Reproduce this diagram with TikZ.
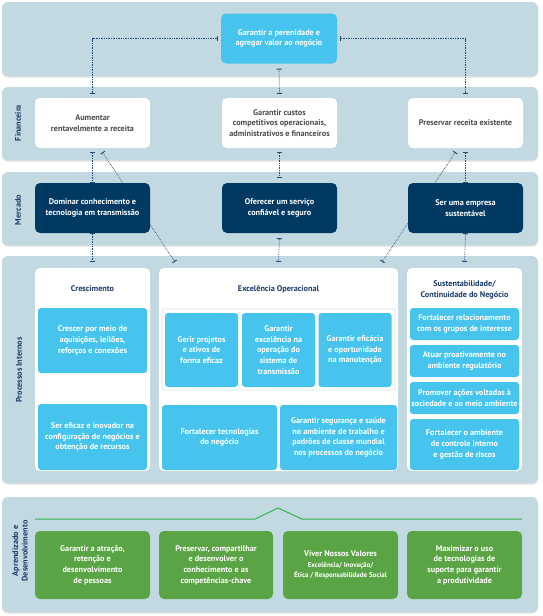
\documentclass[tikz,border=0pt]{standalone}
\usepackage{fontspec}
\setmainfont{PT Sans}
\usetikzlibrary{calc}
\usetikzlibrary{arrows.meta}
\usetikzlibrary{shadows}

\definecolor{stripfill}{RGB}{195,217,226}
\definecolor{sky}{RGB}{70,196,238}
\definecolor{navy}{RGB}{0,58,99}
\definecolor{ink}{RGB}{27,60,107}
\definecolor{leaf}{RGB}{91,164,69}
\definecolor{rulegreen}{RGB}{46,179,80}
\definecolor{dots}{RGB}{31,74,122}
\definecolor{framecol}{RGB}{214,229,236}

\pgfdeclarelayer{bg}
\pgfdeclarelayer{mid}
\pgfsetlayers{bg,mid,main}

\begin{document}
\begin{tikzpicture}[x=1pt,y=-1pt,
    font=\fontsize{8.2}{10.6}\selectfont\bfseries,
    strip/.style={fill=stripfill,rounded corners=6pt,drop shadow={shadow xshift=0pt,shadow yshift=-1.5pt,opacity=0.25}},
    box/.style={rounded corners=5pt,align=center,minimum width=115pt,minimum height=50pt,inner sep=1pt},
    goal/.style={box,fill=sky,text=white},
    fin/.style={box,fill=white,text=black!70},
    mkt/.style={box,fill=navy,text=white},
    panel/.style={fill=white,rounded corners=5pt,minimum width=115pt,minimum height=203pt},
    task/.style={fill=sky,text=white,rounded corners=3pt,align=center,inner sep=0pt},
    devbox/.style={fill=leaf,text=white,rounded corners=5pt,align=center,minimum width=115pt,minimum height=68pt,inner sep=0pt},
    head/.style={text=ink,align=center},
    side/.style={text=ink,rotate=90,align=center},
    tee/.style={dots,densely dotted,line width=0.7pt,{Bar[width=5pt,line width=1pt]}-{Bar[width=5pt,line width=1pt]}}]
  \useasboundingbox (0,0) rectangle (543,616);
  \begin{pgfonlayer}{bg}
    \fill[strip] (2,2) rectangle (538,76);
    \fill[strip] (2,87) rectangle (538,160);
    \fill[strip] (2,172) rectangle (538,245);
    \fill[strip] (2,256) rectangle (538,483);
    \fill[strip] (2,497) rectangle (538,612);
  \end{pgfonlayer}

  \node[side] (lfin) at (18,123) {Financeira};
  \node[side] (lmer) at (18,210) {Mercado};
  \node[side] (lpro) at (19,370) {Processos Internos};
  \node[side,font=\fontsize{8.2}{9.5}\selectfont\bfseries] (lapr) at (20,551) {Aprendizado e\\Desenvolvimento};

  \node[goal,minimum width=116pt] (top) at (279,38.5) {Garantir a perenidade e\\agregar valor ao negócio};

  \node[fin] (fin1) at (92.5,123) {Aumentar\\rentavelmente a receita};
  \node[fin] (fin2) at (279.5,123) {Garantir custos\\competitivos operacionais,\\administrativos e financeiros};
  \node[fin] (fin3) at (465.5,123) {Preservar receita existente};

  \node[mkt] (mer1) at (92.5,208) {Dominar conhecimento e\\tecnologia em transmissão};
  \node[mkt] (mer2) at (279.5,208) {Oferecer um serviço\\confiável e seguro};
  \node[mkt] (mer3) at (465.5,208) {Ser uma empresa\\sustentável};

  \node[panel] (cre) at (92.5,369.5) {};
  \node[panel,minimum width=239pt] (exc) at (278.5,369.5) {};
  \node[panel] (sus) at (464.5,369.5) {};
  \node[head] (creh) at (92.5,289) {Crescimento};
  \node[head] (exch) at (278.5,289) {Excelência Operacional};
  \node[head] (sush) at (464.5,290) {Sustentabilidade/\\Continuidade do Negócio};

  \node[task,minimum width=109pt,minimum height=65pt] (cre1) at (92.5,340.5) {Crescer por meio de\\aquisições, leilões,\\reforços e conexões};
  \node[task,minimum width=109pt,minimum height=66pt] (cre2) at (92.5,437) {Ser eficaz e inovador na\\configuração de negócios e\\obtenção de recursos};

  \node[draw=framecol,line width=0.8pt,rounded corners=2pt,minimum width=233pt,minimum height=81pt] (eo) at (278.5,349.5) {};
  \node[task,minimum width=73pt,minimum height=74pt] (exc1) at (201.5,350) {Gerir projetos\\e ativos de\\forma eficaz};
  \node[task,minimum width=73pt,minimum height=74pt] (exc2) at (278.5,350) {Garantir\\excelência na\\operação do\\sistema de\\transmissão};
  \node[task,minimum width=73pt,minimum height=74pt] (exc3) at (355,350) {Garantir eficácia\\e oportunidade\\na manutenção};
  \node[task,minimum width=115pt,minimum height=65pt] (exc4) at (219.5,437.5) {Fortalecer tecnologias\\do negócio};
  \node[task,minimum width=117pt,minimum height=65pt] (exc5) at (338.5,437.5) {Garantir segurança e saúde\\no ambiente de trabalho e\\padrões de classe mundial\\nos processos do negócio};

  \node[task,minimum width=109pt,minimum height=32pt] (sus1) at (464.5,324) {Fortalecer relacionamento\\com os grupos de interesse};
  \node[task,minimum width=109pt,minimum height=32pt] (sus2) at (464.5,361) {Atuar proativamente no\\ambiente regulatório};
  \node[task,minimum width=109pt,minimum height=32pt] (sus3) at (464.5,398) {Promover ações voltadas à\\sociedade e ao meio ambiente};
  \node[task,minimum width=109pt,minimum height=51pt] (sus4) at (464.5,444.5) {Fortalecer o ambiente\\de controle interno\\e gestão de riscos};

  \draw[rulegreen,line width=1pt] (35,519) -- (255,519) -- (278,508) -- (302,519) -- (522,519);
  \node[devbox] (dev1) at (92.5,565) {Garantir a atração,\\retenção e\\desenvolvimento\\de pessoas};
  \node[devbox,minimum width=114pt] (dev2) at (216,565) {Preservar, compartilhar\\e desenvolver o\\conhecimento e as\\competências-chave};
  \node[devbox] (dev3) at (340.5,565) {Viver Nossos Valores\\\fontsize{7}{9.5}\selectfont Excelência/ Inovação/\\\fontsize{7}{9.5}\selectfont Ética / Responsabilidade Social};
  \node[devbox] (dev4) at (464.5,565) {Maximizar o uso\\de tecnologias de\\suporte para garantir\\a produtividade};

  \begin{pgfonlayer}{mid}
    \draw[tee] ([xshift=-3]top.west) -| ([yshift=4]fin1.north);
    \draw[tee] ([xshift=3]top.east) -| ([yshift=4]fin3.north);
    \draw[tee] ([yshift=-5]top.south) -- ([yshift=4]fin2.north);
    \draw[tee] ([yshift=-4]fin1.south) -- (mer1.north);
    \draw[tee] ([yshift=-4]fin2.south) -- ([yshift=5]mer2.north);
    \draw[tee] ([yshift=-4]fin3.south) -- (mer3.north);
    \draw[tee] ([xshift=10,yshift=-4]fin1.south) -- ([xshift=16,yshift=6]exc.north west);
    \draw[tee] ([xshift=-10,yshift=-4]fin3.south) -- ([xshift=-16,yshift=6]exc.north east);
    \draw[tee] (mer1.south) -- ([yshift=6]cre.north);
    \draw[tee] ([yshift=-5]mer2.south) -- ([yshift=6]exc.north);
    \draw[tee] (mer3.south) -- ([yshift=6]sus.north);
    \draw[tee] ([yshift=-4]cre1.south) -- ([yshift=3]cre2.north);
    \draw[tee] ($(exc4.north |- eo.south)+(0,4)$) -- ([yshift=4]exc4.north);
    \draw[tee] ($(exc5.north |- eo.south)+(0,4)$) -- ([yshift=4]exc5.north);
  \end{pgfonlayer}
\end{tikzpicture}
\end{document}
